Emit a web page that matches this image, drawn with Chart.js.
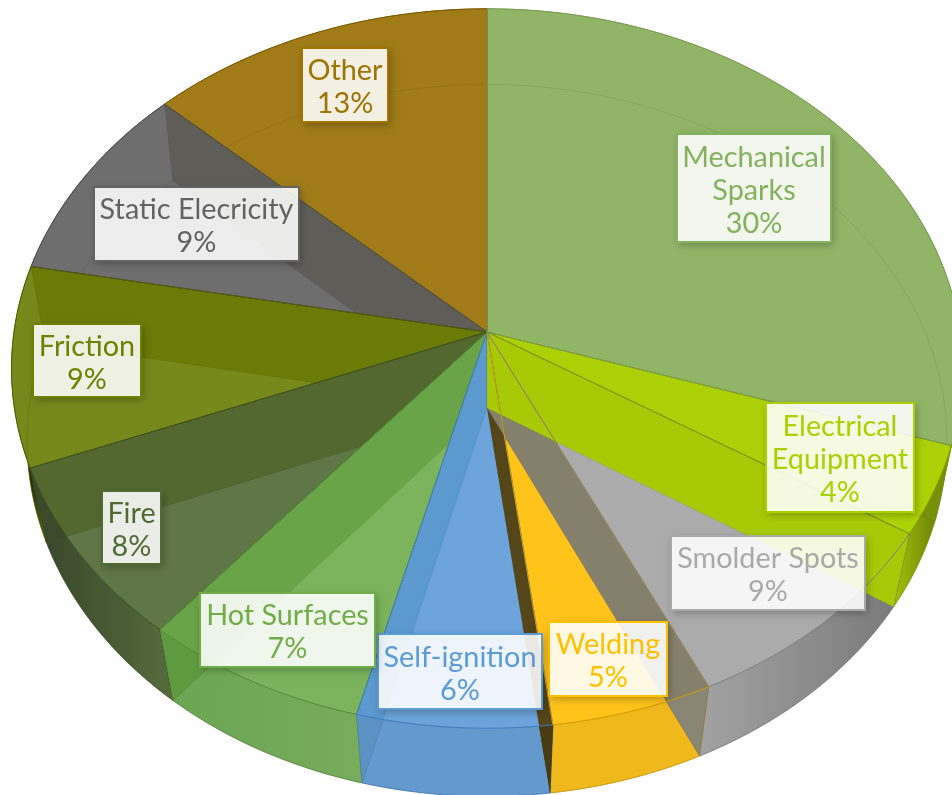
<!DOCTYPE html>
<html>
<head>
<meta charset="utf-8">
<title>Ignition sources</title>
<script src="https://cdn.jsdelivr.net/npm/chart.js@4"></script>
<style>
  html, body { margin: 0; padding: 0; background: #fff; }
  canvas { display: block; }
</style>
</head>
<body>
<canvas id="pie" width="952" height="795"></canvas>
<script>
const categories = ['Mechanical Sparks', 'Electrical Equipment', 'Smolder Spots', 'Welding', 'Self-ignition', 'Hot Surfaces', 'Fire', 'Friction', 'Static Elecricity', 'Other'];
const shares = [30, 4, 9, 5, 6, 7, 8, 9, 9, 13];
const labelLines = [['Mechanical', 'Sparks'], ['Electrical', 'Equipment'], ['Smolder Spots'], ['Welding'], ['Self-ignition'], ['Hot Surfaces'], ['Fire'], ['Friction'], ['Static Elecricity'], ['Other']];

// colours, one per slice
const topColors = ['#91b566', '#abd406', '#ababab', '#ffc31a', '#6ca4db', '#7bb45c', '#5f7646', '#77891b', '#6e6e6e', '#a07b18'];
const innerWall = ['#abd106', '#a8ca06', '#85806c', '#55461a', '#5b99ce', '#69a548', '#52682f', '#6b7b08', '#5f5d57', '#a07b18'];
const innerWallLow = ['#76900a', '#a8c908', '#8a8676', '#4a3b12', '#5b92c4', '#5f9b3e', '#3b4a2b', '#333b0c', '#555555', '#8a6a12'];
const outerWallL = ['#7a9a55', '#a2c00a', '#a2a2a2', '#efb81b', '#6399cc', '#6aa552', '#36442a', '#242b08', '#555555', '#8a6a12'];
const outerWallR = ['#7a9a55', '#5c6e08', '#787878', '#f0ba1d', '#6399cc', '#77ac5c', '#566c3d', '#56640e', '#555555', '#8a6a12'];
const edgeColors = ['#7a9b50', '#7f9e00', '#808080', '#d69b00', '#3f7fbe', '#578a3a', '#3c5025', '#4f5c00', '#4b4b4b', '#7a5900'];
const textColors = ['#84b15e', '#a9d100', '#a9a9a9', '#ffc000', '#5b9bd5', '#70ad47', '#4f6b31', '#6e8000', '#636363', '#9e7300'];

// label boxes: left, top, right, bottom
const labelBoxes = [[677, 134, 831, 242], [766, 403, 914, 512], [671, 536, 865, 610], [549, 622, 667, 696], [378, 634, 542, 709], [200, 593, 375, 667], [102, 491, 161, 564], [33, 324, 141, 397], [94, 187, 299, 261], [302, 48, 388, 122]];

// perspective of the disc: apex, half widths, tilt
const topDisc = { x: 487, y: 332, a: 473, b: 356, k: 0.1015 };
const lowDisc = { x: 487, y: 408, a: 458, b: 353, k: 0.091 };

function rim(disc, th) {
  const u = Math.sin(th), v = -Math.cos(th), w = 1 - disc.k * v;
  return [disc.x + disc.a * u / w, disc.y + disc.b * v / w];
}

function sliceAngles(arc) {
  return [arc.startAngle + Math.PI / 2, arc.endAngle + Math.PI / 2];
}

function rimPath(ctx, disc, from, to) {
  const steps = Math.max(4, Math.ceil(Math.abs(to - from) * 40));
  for (let s = 0; s <= steps; s++) {
    const p = rim(disc, from + (to - from) * s / steps);
    ctx.lineTo(p[0], p[1]);
  }
}

function drawOuterWall(ctx, i, from, to) {
  const a = rim(topDisc, from), b = rim(topDisc, to), c = rim(lowDisc, from), d = rim(lowDisc, to);
  const x0 = Math.min(a[0], b[0], c[0], d[0]), x1 = Math.max(a[0], b[0], c[0], d[0]);
  const g = ctx.createLinearGradient(x0, 0, x1, 0);
  g.addColorStop(0, outerWallL[i]);
  g.addColorStop(1, outerWallR[i]);
  ctx.beginPath();
  ctx.moveTo(a[0], a[1]);
  rimPath(ctx, topDisc, from, to);
  rimPath(ctx, lowDisc, to, from);
  ctx.closePath();
  ctx.fillStyle = g;
  ctx.fill();
  ctx.strokeStyle = edgeColors[i];
  ctx.lineWidth = 0.8;
  ctx.stroke();
}

function drawTopFace(ctx, i, from, to, stroke) {
  ctx.beginPath();
  ctx.moveTo(topDisc.x, topDisc.y);
  rimPath(ctx, topDisc, from, to);
  ctx.closePath();
  if (stroke) {
    ctx.strokeStyle = edgeColors[i];
    ctx.lineWidth = 1;
    ctx.stroke();
  } else {
    ctx.fillStyle = topColors[i];
    ctx.fill();
  }
}

function drawInnerWall(ctx, th, color) {
  const r = rim(topDisc, th), q = rim(lowDisc, th);
  ctx.beginPath();
  ctx.moveTo(topDisc.x, topDisc.y);
  ctx.lineTo(r[0], r[1]);
  ctx.lineTo(q[0], q[1]);
  ctx.lineTo(lowDisc.x, lowDisc.y);
  ctx.closePath();
  ctx.fillStyle = color;
  ctx.fill();
  ctx.strokeStyle = 'rgba(0,0,0,0.06)';
  ctx.lineWidth = 1;
  ctx.stroke();
}

function drawFaintRing(ctx, from, to) {
  ctx.beginPath();
  const s = rim(lowDisc, from);
  ctx.moveTo(s[0], s[1]);
  rimPath(ctx, lowDisc, from, to);
  ctx.strokeStyle = 'rgba(0,0,0,0.08)';
  ctx.lineWidth = 1;
  ctx.stroke();
}

function drawLabel(ctx, i) {
  const [l, t, r, b] = labelBoxes[i];
  const w = r - l, h = b - t;
  // shadow only outside the box, the fill is see-through
  ctx.save();
  ctx.beginPath();
  ctx.rect(0, 0, 952, 795);
  ctx.rect(l, t, w, h);
  ctx.clip('evenodd');
  ctx.shadowColor = 'rgba(0,0,0,0.28)';
  ctx.shadowBlur = 8;
  ctx.shadowOffsetX = 2;
  ctx.shadowOffsetY = 3;
  ctx.fillStyle = '#fff';
  ctx.fillRect(l, t, w, h);
  ctx.restore();

  ctx.fillStyle = 'rgba(255,255,255,0.88)';
  ctx.fillRect(l, t, w, h);
  ctx.strokeStyle = textColors[i];
  ctx.lineWidth = 2;
  ctx.strokeRect(l, t, w, h);

  const lines = labelLines[i].concat([shares[i] + '%']);
  const cx = (l + r) / 2, cy = (t + b) / 2 + 2.5;
  ctx.font = '28.8px Lato';
  ctx.textAlign = 'center';
  ctx.textBaseline = 'middle';
  ctx.fillStyle = textColors[i];
  lines.forEach((line, n) => {
    ctx.fillText(line, cx, cy + (n - (lines.length - 1) / 2) * 33);
  });
}

const pie3d = {
  id: 'pie3d',
  beforeDatasetsDraw(chart) {
    const ctx = chart.ctx;
    const arcs = chart.getDatasetMeta(0).data;
    const angles = arcs.map(sliceAngles);
    const n = arcs.length;
    ctx.save();
    arcs.forEach((a, i) => drawOuterWall(ctx, i, angles[i][0], angles[i][1]));
    arcs.forEach((a, i) => drawTopFace(ctx, i, angles[i][0], angles[i][1], false));
    arcs.forEach((a, i) => drawFaintRing(ctx, angles[i][0], angles[i][1]));

    // walls along the cuts, the ones nearest the front go last
    const order = [0];
    for (let i = n - 1; i > 0; i--) order.push(i);
    order.forEach((i) => drawInnerWall(ctx, angles[i][1], innerWall[i]));

    // the same walls where they stick out under the top rim
    ctx.save();
    ctx.beginPath();
    ctx.rect(0, 0, 952, 795);
    const start = rim(topDisc, 0);
    ctx.moveTo(start[0], start[1]);
    rimPath(ctx, topDisc, 0, Math.PI * 2);
    ctx.closePath();
    ctx.clip('evenodd');
    order.forEach((i) => drawInnerWall(ctx, angles[i][1], innerWallLow[i]));
    ctx.restore();

    // the earlier slice owns the shared edge
    for (let i = n - 1; i >= 0; i--) drawTopFace(ctx, i, angles[i][0], angles[i][1], true);
    arcs.forEach((a, i) => drawLabel(ctx, i));
    ctx.restore();
    return false;
  }
};

new Chart(document.getElementById('pie'), {
  type: 'pie',
  data: { labels: categories, datasets: [{ data: shares, backgroundColor: topColors, borderWidth: 0 }] },
  options: {
    responsive: false,
    animation: false,
    plugins: { legend: { display: false }, tooltip: { enabled: false } }
  },
  plugins: [pie3d]
});
</script>
</body>
</html>
